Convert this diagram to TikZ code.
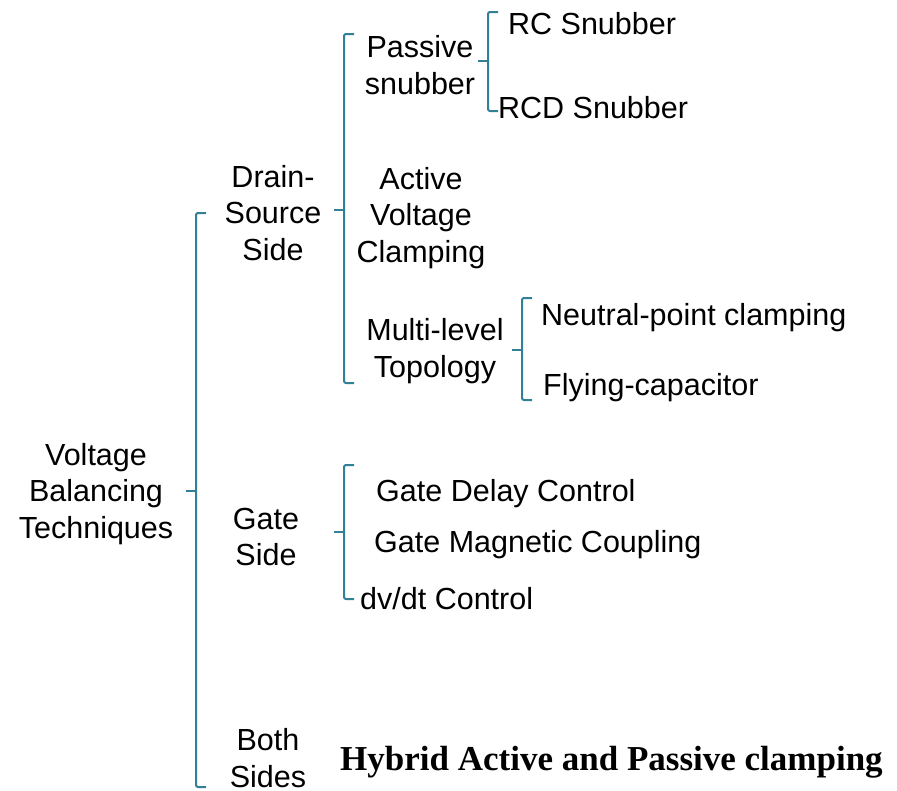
\documentclass[tikz,border=0pt]{standalone}
\usepackage{fontspec}
\setmainfont{Liberation Sans}
\newfontfamily\serifbold{Liberation Serif}
\definecolor{brk}{RGB}{49,128,152}
\tikzset{
  lbl/.style={font=\fontsize{30.5}{36.6}\selectfont, align=center, inner sep=0pt},
  leaf/.style={font=\fontsize{30.5}{36.6}\selectfont, anchor=west, inner sep=0pt},
  brace/.style={draw=brk, line width=2pt, rounded corners=2pt},
}
% bracket: x, top y, bottom y, middle y
\newcommand{\bracketat}[4]{%
  \draw[brace] (#1+10,#2) -- (#1,#2) -- (#1,#3) -- (#1+10,#3);
  \draw[brace] (#1,#4) -- (#1-10,#4);
}
\begin{document}
\begin{tikzpicture}[x=1pt,y=-1pt]
\useasboundingbox (0,0) rectangle (897,790);

% level 0
\node[lbl] (root) at (96,494) {Voltage\\Balancing\\Techniques};
\bracketat{196}{213}{787}{491}

% level 1
\node[lbl] (ds) at (273,213) {Drain-\\Source\\Side};
\node[lbl] (gs) at (266,537) {Gate\\Side};
\node[lbl] (bs) at (268,758) {Both\\Sides};

% drain-source branch
\bracketat{344}{34}{383}{210}
\node[lbl] (ps) at (420,65) {Passive\\snubber};
\node[lbl] (avc) at (421,218) {Active\\Voltage\\Clamping};
\node[lbl] (ml) at (435,351) {Multi-level\\Topology};

\bracketat{488}{12}{111}{61}
\node[leaf] (rc) at (508,24) {RC Snubber};
\node[leaf] (rcd) at (498,108) {RCD Snubber};

\bracketat{522}{298}{400}{350}
\node[leaf] (npc) at (541,318) {Neutral-point clamping};
\node[leaf] (fc) at (543,388) {Flying-capacitor};

% gate branch
\bracketat{344}{465}{599}{532}
\node[leaf] (gdc) at (376,494) {Gate Delay Control};
\node[leaf] (gmc) at (374,545) {Gate Magnetic Coupling};
\node[leaf] (dvdt) at (360,599) {dv/dt Control};

% both sides
\node[leaf, font=\serifbold\bfseries\fontsize{35}{40}\selectfont] (hyb) at (340,762) {Hybrid Active and Passive clamping};
\end{tikzpicture}
\end{document}
